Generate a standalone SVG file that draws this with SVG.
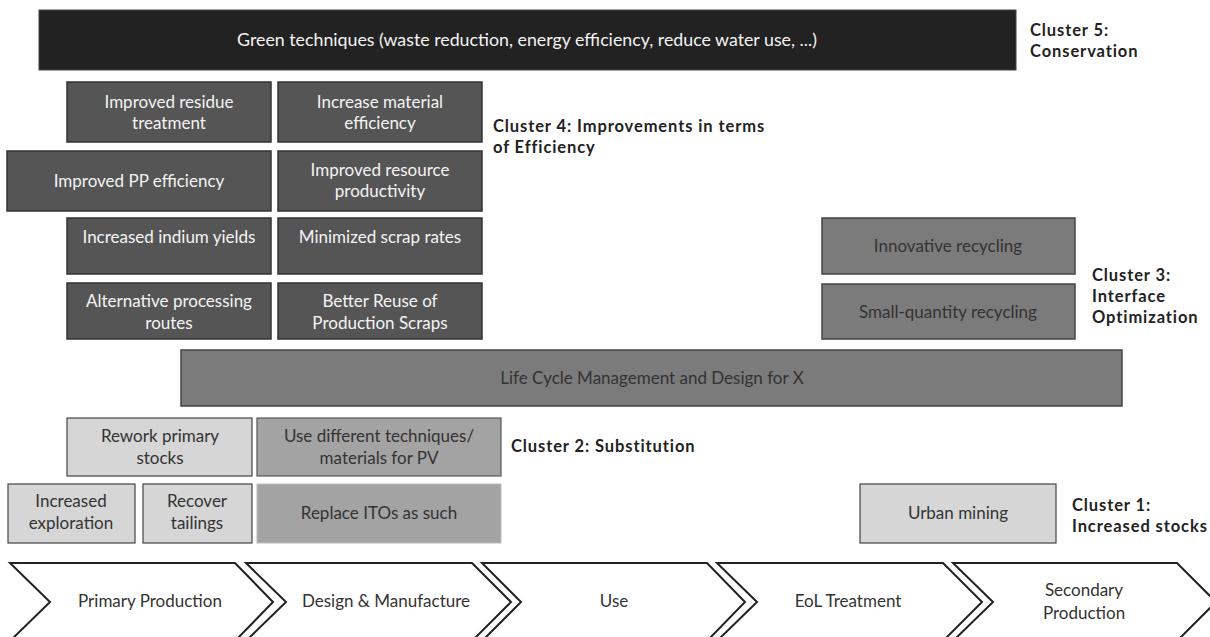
<svg xmlns="http://www.w3.org/2000/svg" width="1210" height="637" viewBox="0 0 1210 637">
<style>
text{font-family:Lato,"Open Sans","Liberation Sans",sans-serif;font-size:17px;text-anchor:middle}
.dk{fill:#555;stroke:#333;stroke-width:1.5}
.md{fill:#7b7b7b;stroke:#444;stroke-width:1.5}
.ml{fill:#a3a3a3;stroke:#555;stroke-width:1.2}
.lt{fill:#d6d6d6;stroke:#444;stroke-width:1.2}
.tw{fill:#f4f4f4}
.td{fill:#333}
.cl{font-weight:bold;fill:#222;text-anchor:start;font-size:16.5px;letter-spacing:0.9px}
.ch{fill:#fff;stroke:#222;stroke-width:2;stroke-linejoin:miter}
</style>
<rect width="1210" height="637" fill="#fff"/>
<g id="green"><rect x="39" y="10" width="977" height="60" fill="#222" stroke="#444" stroke-width="1"/><text x="527" y="46" class="tw" style="font-size:17.8px">Green techniques (waste reduction, energy efficiency, reduce water use, ...)</text></g>
<g id="residue"><rect class="dk" x="67" y="82" width="204" height="60"/><text x="169" y="108" class="tw">Improved residue</text><text x="169" y="129" class="tw">treatment</text></g>
<g id="material"><rect class="dk" x="278" y="82" width="204" height="60"/><text x="380" y="108" class="tw">Increase material</text><text x="380" y="129" class="tw">efficiency</text></g>
<g id="pp"><rect class="dk" x="7" y="151" width="264" height="60"/><text x="139" y="187" class="tw">Improved PP efficiency</text></g>
<g id="resource"><rect class="dk" x="278" y="151" width="204" height="60"/><text x="380" y="176" class="tw">Improved resource</text><text x="380" y="197" class="tw">productivity</text></g>
<g id="indium"><rect class="dk" x="67" y="218" width="204" height="56"/><text x="169" y="243" class="tw">Increased indium yields</text></g>
<g id="scrap"><rect class="dk" x="278" y="218" width="204" height="56"/><text x="380" y="243" class="tw">Minimized scrap rates</text></g>
<g id="altroutes"><rect class="dk" x="67" y="283" width="204" height="56"/><text x="169" y="307" class="tw">Alternative processing</text><text x="169" y="329" class="tw">routes</text></g>
<g id="reuse"><rect class="dk" x="278" y="283" width="204" height="56"/><text x="380" y="307" class="tw">Better Reuse of</text><text x="380" y="329" class="tw">Production Scraps</text></g>
<g id="innov"><rect class="md" x="822" y="218" width="253" height="56"/><text x="948" y="252" class="td">Innovative recycling</text></g>
<g id="smallq"><rect class="md" x="822" y="284" width="253" height="55"/><text x="948" y="318" class="td">Small-quantity recycling</text></g>
<g id="lcm"><rect class="md" x="181" y="350" width="941" height="56"/><text x="652" y="384" class="td">Life Cycle Management and Design for X</text></g>
<g id="rework"><rect class="lt" x="67" y="418" width="185" height="58"/><text x="160" y="442" class="td">Rework primary</text><text x="160" y="464" class="td">stocks</text></g>
<g id="usediff"><rect class="ml" x="257" y="418" width="244" height="58"/><text x="379" y="442" class="td">Use different techniques/</text><text x="379" y="464" class="td">materials for PV</text></g>
<g id="explor"><rect class="lt" x="8" y="484" width="127" height="59"/><text x="71" y="507" class="td">Increased</text><text x="71" y="529" class="td">exploration</text></g>
<g id="tailings"><rect class="lt" x="143" y="484" width="109" height="59"/><text x="197" y="507" class="td">Recover</text><text x="197" y="529" class="td">tailings</text></g>
<g id="ito"><rect x="257" y="484" width="244" height="59" fill="#a3a3a3" stroke="#bbb" stroke-width="1"/><text x="379" y="519" class="td">Replace ITOs as such</text></g>
<g id="urban"><rect class="lt" x="860" y="484" width="196" height="59"/><text x="958" y="519" class="td">Urban mining</text></g>
<g id="labels">
<text class="cl" x="1030" y="36">Cluster 5:</text><text class="cl" x="1030" y="57">Conservation</text>
<text class="cl" x="493" y="132">Cluster 4: Improvements in terms</text><text class="cl" x="493" y="153">of Efficiency</text>
<text class="cl" x="1092" y="281">Cluster 3:</text><text class="cl" x="1092" y="302">Interface</text><text class="cl" x="1092" y="323">Optimization</text>
<text class="cl" x="511" y="452">Cluster 2: Substitution</text>
<text class="cl" x="1072" y="511">Cluster 1:</text><text class="cl" x="1072" y="532">Increased stocks</text>
</g>
<g id="stages">
<g id="s1"><polygon class="ch" points="10,563 235,563 273,602 235,641 10,641 50,602"/><text x="150" y="607" class="td">Primary Production</text></g>
<g id="s2"><polygon class="ch" points="246,563 472,563 511,602 472,641 246,641 286,602"/><text x="386" y="607" class="td">Design &amp; Manufacture</text></g>
<g id="s3"><polygon class="ch" points="482,563 707,563 745,602 707,641 482,641 521,602"/><text x="614" y="607" class="td">Use</text></g>
<g id="s4"><polygon class="ch" points="717,563 943,563 982,602 943,641 717,641 757,602"/><text x="848" y="607" class="td">EoL Treatment</text></g>
<g id="s5"><polygon class="ch" points="953,563 1177,563 1216,602 1177,641 953,641 993,602"/><text x="1084" y="596" class="td">Secondary</text><text x="1084" y="619" class="td">Production</text></g>
</g>
</svg>
